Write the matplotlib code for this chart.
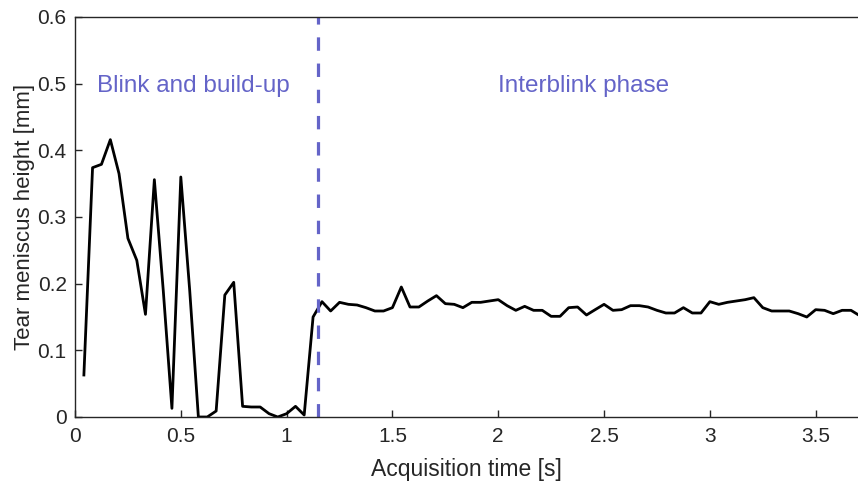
import numpy as np
import matplotlib.pyplot as plt

# frame times (s) and tear meniscus height (mm)
time_s = [0.042, 0.083, 0.125, 0.167, 0.208, 0.250, 0.292, 0.333, 0.375, 0.417,
          0.458, 0.500, 0.542, 0.583, 0.625, 0.667, 0.708, 0.750, 0.792, 0.833,
          0.875, 0.917, 0.958, 1.000, 1.042, 1.083, 1.125, 1.167, 1.208, 1.250,
          1.292, 1.333, 1.375, 1.417, 1.458, 1.500, 1.542, 1.583, 1.625, 1.667,
          1.708, 1.750, 1.792, 1.833, 1.875, 1.917, 1.958, 2.000, 2.042, 2.083,
          2.125, 2.167, 2.208, 2.250, 2.292, 2.333, 2.375, 2.417, 2.458, 2.500,
          2.542, 2.583, 2.625, 2.667, 2.708, 2.750, 2.792, 2.833, 2.875, 2.917,
          2.958, 3.000, 3.042, 3.083, 3.125, 3.167, 3.208, 3.250, 3.292, 3.333,
          3.375, 3.417, 3.458, 3.500, 3.542, 3.583, 3.625, 3.667, 3.708]
height_mm = [0.063, 0.374, 0.379, 0.416, 0.365, 0.268, 0.235, 0.154, 0.356, 0.190,
             0.013, 0.360, 0.190, 0.000, 0.000, 0.009, 0.183, 0.202, 0.016, 0.015,
             0.015, 0.005, 0.000, 0.005, 0.016, 0.003, 0.150, 0.173, 0.159, 0.172,
             0.169, 0.168, 0.164, 0.159, 0.159, 0.164, 0.195, 0.165, 0.165, 0.174,
             0.182, 0.170, 0.169, 0.164, 0.172, 0.172, 0.174, 0.176, 0.167, 0.160,
             0.166, 0.160, 0.160, 0.151, 0.151, 0.164, 0.165, 0.153, 0.161, 0.169,
             0.160, 0.161, 0.167, 0.167, 0.165, 0.160, 0.156, 0.156, 0.164, 0.156,
             0.156, 0.173, 0.169, 0.172, 0.174, 0.176, 0.179, 0.164, 0.159, 0.159,
             0.159, 0.155, 0.150, 0.161, 0.160, 0.155, 0.160, 0.160, 0.152]

blink_end = 1.15
x_ticks = [0, 0.5, 1, 1.5, 2, 2.5, 3, 3.5]
y_ticks = [0, 0.1, 0.2, 0.3, 0.4, 0.5, 0.6]

phase_color = '#6464c8'
axis_color = '#262626'

plt.rcParams['font.family'] = ['Liberation Sans', 'DejaVu Sans']

fig = plt.figure(figsize=(8.58, 4.82), dpi=100)
ax = fig.add_axes([75 / 858, 1 - 417 / 482, 1 - 75 / 858, 400 / 482])

ax.plot(time_s, height_mm, color='black', linewidth=2.0)
ax.axvline(blink_end, color=phase_color, linewidth=2.3, linestyle=(0, (4.2, 4.0)))

ax.text(0.104, 0.497, "Blink and build-up", color=phase_color, fontsize=17.5, va='center')
ax.text(2.0, 0.497, "Interblink phase", color=phase_color, fontsize=17.5, va='center')

ax.set_xlim(0, 3.7)
ax.set_ylim(0, 0.6)
ax.set_xticks(x_ticks)
ax.set_xticklabels(["0", "0.5", "1", "1.5", "2", "2.5", "3", "3.5"])
ax.set_yticks(y_ticks)
ax.set_yticklabels(["0", "0.1", "0.2", "0.3", "0.4", "0.5", "0.6"])

ax.tick_params(direction='in', length=5, width=1, colors=axis_color, labelsize=15)
ax.tick_params(axis='x', pad=7)
ax.tick_params(axis='y', pad=6)
for side in ['left', 'bottom', 'top']:
    ax.spines[side].set_color(axis_color)
    ax.spines[side].set_linewidth(1)
ax.spines['right'].set_visible(False)

ax.set_xlabel("Acquisition time [s]", fontsize=16.5, color=axis_color, labelpad=9)
ax.set_ylabel("Tear meniscus height [mm]", fontsize=16, color=axis_color, labelpad=2)

fig.savefig("out.png", dpi=100)
